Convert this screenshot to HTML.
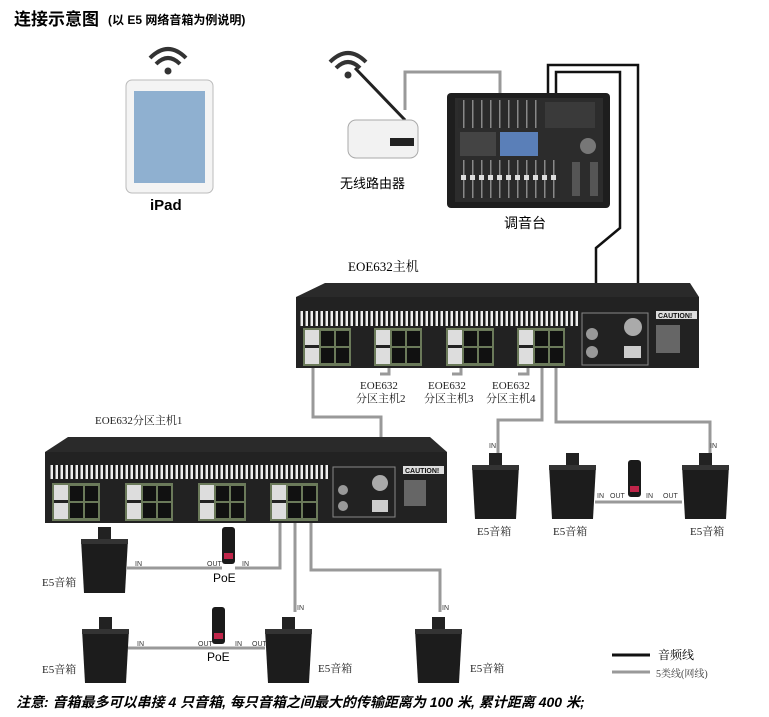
<!DOCTYPE html>
<html><head><meta charset="utf-8"><style>
html,body{margin:0;padding:0;background:#fff;}
svg{display:block;font-family:"Liberation Sans","Noto Sans CJK SC",sans-serif;}
.s{font-family:"Liberation Serif","Noto Serif CJK SC",serif;}
</style></head><body>
<svg width="769" height="717" viewBox="0 0 769 717" xmlns="http://www.w3.org/2000/svg">
<defs>
<pattern id="vent" width="5" height="14" patternUnits="userSpaceOnUse"><rect width="5" height="14" fill="#1a1a1a"/><rect x="0.5" width="2.5" height="14" fill="#eee"/></pattern>
<pattern id="fad" width="9" height="40" patternUnits="userSpaceOnUse"><rect width="9" height="40" fill="#2a2a2a"/><rect x="4" width="1.5" height="40" fill="#888"/><rect x="2" y="15" width="5" height="5" fill="#ddd"/></pattern>
<g id="spk">
<rect x="17" y="0" width="13" height="13" fill="#222"/>
<path d="M0 12 H47 L44 66 H3 Z" fill="#1c1c1c"/>
<rect x="0" y="12" width="47" height="5" fill="#333"/>
</g>
<g id="poe"><rect width="13" height="37" rx="3" fill="#1a1a1a"/><rect x="2" y="26" width="9" height="6" fill="#c0254a"/></g>
<g id="rj"><rect width="48" height="38" fill="#6b7a5a"/><rect x="2" y="2" width="14" height="34" fill="#ddd"/><rect x="18" y="3" width="13" height="15" fill="#111"/><rect x="33" y="3" width="13" height="15" fill="#111"/><rect x="18" y="20" width="13" height="15" fill="#111"/><rect x="33" y="20" width="13" height="15" fill="#111"/><rect x="2" y="17" width="14" height="3" fill="#222"/></g>
</defs>

<text x="14" y="25" font-size="17" font-weight="bold">连接示意图</text>
<text x="108" y="24" font-size="12" font-weight="bold">(以 E5 网络音箱为例说明)</text>

<g fill="none" stroke="#333" stroke-width="4">
<path d="M150 58 Q168 40 186 58"/><path d="M156 64 Q168 52 180 64"/>
<path d="M330 62 Q348 44 366 62"/><path d="M336 68 Q348 56 360 68"/>
</g>
<circle cx="168" cy="71" r="3.5" fill="#333"/><circle cx="348" cy="75" r="3.5" fill="#333"/>

<!-- iPad -->
<rect x="126" y="80" width="87" height="113" rx="6" fill="#f4f4f4" stroke="#bbb"/>
<rect x="134" y="91" width="71" height="92" fill="#8fb0d0"/>
<text x="150" y="210" font-size="15" font-weight="bold">iPad</text>

<!-- router -->
<line x1="355" y1="68" x2="405" y2="120" stroke="#222" stroke-width="3"/>
<rect x="348" y="120" width="70" height="38" rx="8" fill="#f2f2f2" stroke="#aaa"/>
<rect x="390" y="138" width="24" height="8" fill="#222"/>
<text x="340" y="188" font-size="13">无线路由器</text>

<!-- mixer -->
<rect x="447" y="93" width="163" height="115" rx="4" fill="#1e1e1e"/>
<rect x="455" y="98" width="148" height="104" fill="#2c2c2c"/>
<rect x="458" y="100" width="80" height="28" fill="url(#fad)"/>
<rect x="500" y="132" width="38" height="24" fill="#5a7fb8"/>
<rect x="460" y="132" width="36" height="24" fill="#444"/>
<rect x="460" y="160" width="100" height="38" fill="url(#fad)"/>
<rect x="545" y="102" width="50" height="26" fill="#3a3a3a"/>
<circle cx="588" cy="146" r="8" fill="#777"/>
<rect x="572" y="162" width="8" height="34" fill="#555"/><rect x="590" y="162" width="8" height="34" fill="#555"/>
<text x="504" y="228" font-size="14">调音台</text>

<!-- cables -->
<g fill="none" stroke="#999" stroke-width="3">
<polyline points="405,110 405,72 500,72 500,93"/>
<polyline points="313,355 313,417 381,417 381,505"/>
<polyline points="389,362 389,374 380,374"/>
<polyline points="461,362 461,374 452,374"/>
<polyline points="528,362 528,374 518,374"/>
<polyline points="542,362 542,420 498,420 498,455"/>
<polyline points="556,362 556,422 710,422 710,455"/>
<polyline points="595,502 682,502"/>
<polyline points="280,505 280,568 235,568"/>
<polyline points="127,568 222,568"/>
<polyline points="295,505 295,612"/>
<polyline points="311,505 311,570 440,570 440,612"/>
<polyline points="128,648 265,648"/>
</g>
<g fill="none" stroke="#111" stroke-width="2.5">
<polyline points="548,93 548,65 638,65 638,318"/>
<polyline points="556,93 556,72 620,72 620,228 596,248 596,318"/>
</g>

<!-- main host -->
<text x="348" y="271" font-size="13" class="s">EOE632主机</text>
<path d="M296 297 L325 283 H690 L699 297 Z" fill="#2a2a2a"/>
<rect x="296" y="297" width="403" height="71" fill="#222"/>
<rect x="300" y="311" width="278" height="15" fill="url(#vent)"/>
<use href="#rj" x="303" y="328"/><use href="#rj" x="374" y="328"/><use href="#rj" x="446" y="328"/><use href="#rj" x="517" y="328"/>
<rect x="582" y="313" width="66" height="52" fill="none" stroke="#888"/>
<circle cx="592" cy="334" r="6" fill="#999"/><circle cx="592" cy="352" r="6" fill="#999"/>
<circle cx="633" cy="327" r="9" fill="#aaa"/><rect x="624" y="346" width="17" height="12" fill="#ccc"/>
<rect x="656" y="311" width="41" height="8" fill="#ddd"/>
<text x="658" y="318" font-size="7" font-weight="bold" fill="#111">CAUTION!</text>
<rect x="656" y="325" width="24" height="28" fill="#666"/>
<g class="s" font-size="11" fill="#222">
<text x="360" y="389">EOE632</text><text x="356" y="402">分区主机2</text>
<text x="428" y="389">EOE632</text><text x="424" y="402">分区主机3</text>
<text x="492" y="389">EOE632</text><text x="486" y="402">分区主机4</text>
<text x="95" y="424">EOE632分区主机1</text>
</g>

<!-- sub host -->
<path d="M45 452 L68 437 H430 L447 452 Z" fill="#2a2a2a"/>
<rect x="45" y="452" width="402" height="71" fill="#222"/>
<rect x="50" y="465" width="280" height="14" fill="url(#vent)"/>
<use href="#rj" x="52" y="483"/><use href="#rj" x="125" y="483"/><use href="#rj" x="198" y="483"/><use href="#rj" x="270" y="483"/>
<rect x="333" y="467" width="62" height="50" fill="none" stroke="#888"/>
<circle cx="343" cy="490" r="5" fill="#999"/><circle cx="343" cy="506" r="5" fill="#999"/>
<circle cx="380" cy="483" r="8" fill="#aaa"/><rect x="372" y="500" width="16" height="12" fill="#ccc"/>
<rect x="403" y="466" width="41" height="8" fill="#ddd"/>
<text x="405" y="473" font-size="7" font-weight="bold" fill="#111">CAUTION!</text>
<rect x="404" y="480" width="22" height="26" fill="#666"/>

<!-- speakers -->
<use href="#spk" x="472" y="453"/><use href="#spk" x="549" y="453"/><use href="#spk" x="682" y="453"/>
<use href="#spk" x="81" y="527"/>
<use href="#spk" x="82" y="617"/><use href="#spk" x="265" y="617"/><use href="#spk" x="415" y="617"/>
<use href="#poe" x="628" y="460"/><use href="#poe" x="222" y="527"/><use href="#poe" x="212" y="607"/>

<g font-size="7" fill="#333">
<text x="489" y="448">IN</text><text x="710" y="448">IN</text>
<text x="597" y="498">IN</text><text x="610" y="498">OUT</text><text x="646" y="498">IN</text><text x="663" y="498">OUT</text>
<text x="135" y="566">IN</text><text x="207" y="566">OUT</text><text x="242" y="566">IN</text>
<text x="137" y="646">IN</text><text x="198" y="646">OUT</text><text x="235" y="646">IN</text><text x="252" y="646">OUT</text>
<text x="297" y="610">IN</text><text x="442" y="610">IN</text>
</g>
<g font-size="11" class="s" fill="#222">
<text x="477" y="535">E5音箱</text><text x="553" y="535">E5音箱</text><text x="690" y="535">E5音箱</text>
<text x="42" y="586">E5音箱</text><text x="42" y="673">E5音箱</text>
<text x="318" y="672">E5音箱</text><text x="470" y="672">E5音箱</text>
</g>
<text x="213" y="582" font-size="12">PoE</text>
<text x="207" y="661" font-size="12">PoE</text>

<line x1="612" y1="655" x2="650" y2="655" stroke="#111" stroke-width="3"/>
<line x1="612" y1="672" x2="650" y2="672" stroke="#999" stroke-width="3"/>
<text x="658" y="659" font-size="12" class="s">音频线</text>
<text x="656" y="677" font-size="10" class="s" fill="#444">5类线(网线)</text>

<text x="16" y="707" font-size="14" font-style="italic" font-weight="bold">注意:  音箱最多可以串接 4 只音箱, 每只音箱之间最大的传输距离为 100 米, 累计距离 400 米;</text>
</svg>
</body></html>
